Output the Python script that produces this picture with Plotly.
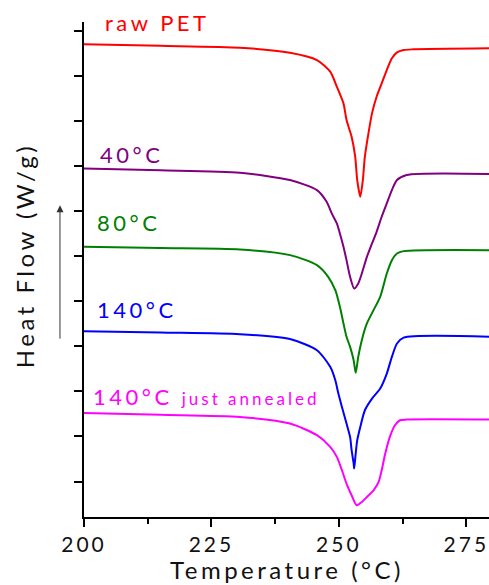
import plotly.graph_objects as go

# DSC heating scans of PET, arbitrary heat-flow units (curves offset vertically)
temp_raw = [200.0, 215.0, 230.6, 240.4, 245.7, 248.3, 249.6, 250.9, 251.5, 251.9, 252.5, 253.2, 253.6,
            254.2, 254.7, 255.1, 255.8, 256.5, 257.4, 258.4, 259.4, 260.4, 261.4, 262.7, 264.6, 279.5]
hf_raw = [9.698, 9.665, 9.623, 9.512, 9.350, 9.091, 8.758, 8.388, 8.018, 7.870, 7.648, 7.205, 6.687,
          6.317, 6.687, 7.205, 7.722, 8.166, 8.536, 8.832, 9.128, 9.387, 9.520, 9.572, 9.587, 9.609]

temp_40 = [200.0, 215.0, 230.6, 240.4, 245.7, 247.6, 248.6, 249.6, 250.2, 250.9, 251.5, 252.2, 253.0,
           253.8, 254.5, 255.5, 256.5, 257.4, 258.4, 259.4, 260.4, 261.4, 263.3, 279.5]
hf_40 = [6.946, 6.905, 6.849, 6.687, 6.465, 6.206, 5.947, 5.725, 5.503, 5.207, 4.911, 4.541, 4.283,
         4.394, 4.615, 4.985, 5.281, 5.540, 5.873, 6.169, 6.465, 6.687, 6.798, 6.820]

temp_80 = [200.0, 215.0, 230.6, 240.4, 245.7, 247.9, 249.3, 250.2, 250.9, 251.5, 252.2, 252.9, 253.3,
           253.8, 254.5, 255.5, 256.8, 258.1, 259.4, 260.4, 261.4, 262.7, 279.5]
hf_80 = [5.206, 5.180, 5.148, 5.022, 4.800, 4.541, 4.245, 3.876, 3.506, 3.210, 2.988, 2.692, 2.411,
         2.766, 3.136, 3.506, 3.802, 4.097, 4.615, 4.911, 5.059, 5.111, 5.133]

temp_140 = [200.0, 215.0, 230.6, 240.4, 245.7, 248.3, 249.3, 249.9, 250.6, 251.5, 252.2, 252.5, 252.9,
            253.0, 253.3, 253.6, 254.2, 255.1, 256.5, 258.1, 259.4, 260.4, 261.4, 262.7, 279.5]
hf_140 = [3.336, 3.305, 3.269, 3.160, 2.914, 2.544, 2.248, 1.952, 1.656, 1.287, 0.990, 0.695, 0.399,
          0.288, 0.621, 0.917, 1.212, 1.582, 1.841, 2.063, 2.396, 2.766, 3.062, 3.191, 3.209]

temp_140a = [200.0, 215.0, 230.6, 240.4, 245.7, 248.3, 249.6, 250.6, 251.5, 252.5, 253.5, 254.5, 255.5,
             256.8, 257.8, 258.4, 259.1, 260.0, 261.0, 262.0, 263.3, 279.5]
hf_140a = [1.522, 1.482, 1.434, 1.287, 1.028, 0.769, 0.547, 0.251, -0.045, -0.304, -0.526, -0.452, -0.341,
           -0.193, -0.008, 0.251, 0.621, 0.990, 1.249, 1.360, 1.375, 1.375]

series = [
    ("raw PET", temp_raw, hf_raw, "#ff0000"),
    ("40°C", temp_40, hf_40, "#800080"),
    ("80°C", temp_80, hf_80, "#008000"),
    ("140°C", temp_140, hf_140, "#0000ff"),
    ("140°C just annealed", temp_140a, hf_140a, "#ff00ff"),
]

# label anchor positions (temperature, heat flow) for each curve
label_x = [203.7, 202.75, 202.16, 202.16, 201.47]
label_y = [10.182, 7.248, 5.743, 3.824, 1.886]
label_text = ["raw PET", "40°C", "80°C", "140°C",
              "140°C <span style='font-size:17px;letter-spacing:3px'>just annealed</span>"]

x_ticks = [200, 225, 250, 275]
x_minor = [212.5, 237.5, 262.5]
y_ticks = list(range(0, 11))

FONT = "Lato"


def spaced(s, px=3.5):
    return f"<span style='letter-spacing:{px}px'>{s}</span>"


fig = go.Figure()
for name, t, hf, color in series:
    fig.add_trace(go.Scatter(x=t, y=hf, mode="lines", name=name,
                             line=dict(color=color, width=2, shape="spline", smoothing=0.7),
                             showlegend=False))

for (name, _, _, color), lx, ly, txt in zip(series, label_x, label_y, label_text):
    fig.add_annotation(x=lx, y=ly, xref="x", yref="y", text=spaced(txt), showarrow=False,
                       xanchor="left", yanchor="middle",
                       font=dict(family=FONT, size=22, color=color))

# y-axis title and "endo up" arrow
fig.add_annotation(x=-0.148, y=0.527, xref="paper", yref="paper",
                   text=spaced("Heat Flow (W/g)", 3.5), textangle=-90, showarrow=False,
                   xanchor="center", yanchor="middle",
                   font=dict(family=FONT, size=24, color="#111111"))
fig.add_annotation(x=-0.0593, y=0.630, xref="paper", yref="paper", text="",
                   showarrow=True, ax=0, ay=135, arrowhead=2, arrowsize=1.4,
                   arrowwidth=1, arrowcolor="#333333", standoff=0, startstandoff=0)

# x-axis title
fig.add_annotation(x=0.5, y=-0.138, xref="paper", yref="paper",
                   text=spaced("Temperature (°C)", 3.5), showarrow=False,
                   xanchor="center", yanchor="bottom", borderpad=0,
                   font=dict(family=FONT, size=24, color="#111111"))

fig.update_xaxes(range=[200, 279.45], showline=True, linewidth=2, linecolor="black",
                 ticks="outside", ticklen=8, tickwidth=2, tickcolor="black",
                 tickvals=x_ticks, ticktext=[spaced(str(v), 3) for v in x_ticks],
                 tickfont=dict(family=FONT, size=21, color="#111111"),
                 ticklabeloverflow="allow",
                 showgrid=False, zeroline=False,
                 minor=dict(tickvals=x_minor, ticks="outside", ticklen=5, tickwidth=2,
                            tickcolor="black", showgrid=False))
fig.update_yaxes(range=[-0.786, 10.193], showline=True, linewidth=2, linecolor="black",
                 ticks="outside", ticklen=8, tickwidth=2, tickcolor="black",
                 tickvals=y_ticks, showticklabels=False, showgrid=False, zeroline=False)

fig.update_layout(width=489, height=585, margin=dict(l=84, r=0, t=22, b=68),
                  paper_bgcolor="white", plot_bgcolor="white",
                  font=dict(family=FONT))

fig.write_html("out.html")
